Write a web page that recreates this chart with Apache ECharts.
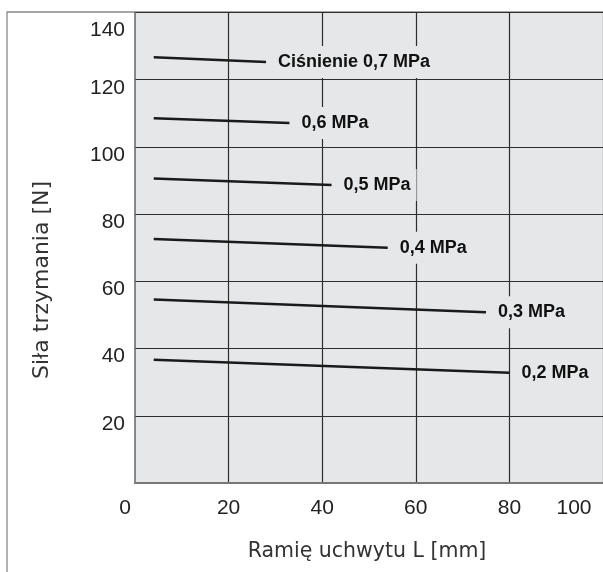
<!DOCTYPE html>
<html>
<head>
<meta charset="utf-8">
<script src="https://cdn.jsdelivr.net/npm/echarts@6/dist/echarts.min.js"></script>
<style>
  html, body { margin: 0; padding: 0; background: #fff; }
  #chart { width: 603px; height: 572px; }
</style>
</head>
<body>
<div id="chart"></div>
<script>
// Holding force vs gripper arm length, one line per supply pressure
const pressureNames = ['Ciśnienie 0,7 MPa', '0,6 MPa', '0,5 MPa', '0,4 MPa', '0,3 MPa', '0,2 MPa'];

// [arm length L in mm, holding force in N]
const p07 = [[4, 126.7], [28, 125.3]];
const p06 = [[4, 108.5], [33, 107.1]];
const p05 = [[4, 90.6], [42, 88.7]];
const p04 = [[4, 72.6], [54, 70.0]];
const p03 = [[4, 54.6], [75, 50.8]];
const p02 = [[4, 36.7], [80, 32.8]];
const pressureData = [p07, p06, p05, p04, p03, p02];

const xTicks = [0, 20, 40, 60, 80, 100];
const yTicks = [20, 40, 60, 80, 100, 120, 140];

const xTitle = 'Ramię uchwytu L [mm]';
const yTitle = 'Siła trzymania [N]';

const PLOT_BG = '#e6e7e8';
const GRID_LINE = '#2e2e2e';
const TICK_FONT = 'Liberation Sans, Arial, sans-serif';

const chart = echarts.init(document.getElementById('chart'), null, { renderer: 'canvas' });

const series = pressureNames.map((name, i) => ({
  name: name,
  type: 'line',
  data: pressureData[i],
  symbol: 'none',
  showSymbol: false,
  silent: true,
  lineStyle: { color: '#1a1a1a', width: 2.5 },
  endLabel: {
    show: true,
    formatter: '{a}',
    distance: 6,
    fontFamily: TICK_FONT,
    fontWeight: 'bold',
    fontSize: 18,
    color: '#111',
    backgroundColor: PLOT_BG,
    padding: [6, 6],
    lineHeight: 20
  }
}));

const option = {
  backgroundColor: '#ffffff',
  animation: false,
  grid: {
    left: 135,
    right: -3.5,
    top: 12,
    bottom: 89,
    show: true,
    backgroundColor: PLOT_BG,
    borderWidth: 0,
    containLabel: false
  },
  xAxis: {
    type: 'value',
    min: 0,
    max: 100,
    interval: 20,
    axisLine: { show: true, lineStyle: { color: '#777', width: 2 } },
    axisTick: { show: false },
    splitLine: { show: true, showMinLine: false, lineStyle: { color: GRID_LINE, width: 1.2 } },
    axisLabel: {
      margin: 15,
      formatter: function (v) {
        if (v === xTicks[0]) return '{first|' + v + '}';
        if (v === xTicks[xTicks.length - 1]) return '{last|' + v + '}';
        return '{mid|' + v + '}';
      },
      rich: {
        first: { fontFamily: TICK_FONT, fontSize: 21, color: '#222', padding: [0, 20, 0, 0] },
        mid: { fontFamily: TICK_FONT, fontSize: 21, color: '#222' },
        last: { fontFamily: TICK_FONT, fontSize: 21, color: '#222', padding: [0, 58, 0, 0] }
      }
    }
  },
  yAxis: {
    type: 'value',
    min: 0,
    max: 140,
    interval: 20,
    axisLine: { show: true, lineStyle: { color: '#666', width: 1.5 } },
    axisTick: { show: false },
    splitLine: { show: true, showMinLine: false, lineStyle: { color: GRID_LINE, width: 1.2 } },
    axisLabel: {
      showMinLabel: false,
      margin: 10,
      verticalAlign: 'top',
      formatter: function (v) {
        if (yTicks.indexOf(v) < 0) return '';
        if (v === yTicks[yTicks.length - 1]) return '{top|' + v + '}';
        return '{n|' + v + '}';
      },
      rich: {
        n: { fontFamily: TICK_FONT, fontSize: 21, color: '#222', lineHeight: 16 },
        top: { fontFamily: TICK_FONT, fontSize: 21, color: '#222', lineHeight: 16, padding: [20, 0, 0, 0] }
      }
    }
  },
  graphic: [
    {
      type: 'rect',
      z: -10,
      silent: true,
      shape: { x: 7, y: 12, width: 800, height: 800 },
      style: { fill: null, stroke: '#8a8a8a', lineWidth: 1.3 }
    },
    {
      type: 'text',
      silent: true,
      x: 42.5,
      y: 280,
      rotation: Math.PI / 2,
      style: {
        text: yTitle,
        fontFamily: 'DejaVu Sans, sans-serif',
        fontSize: 22,
        fill: '#333',
        align: 'center',
        verticalAlign: 'middle'
      }
    },
    {
      type: 'text',
      silent: true,
      x: 367,
      y: 552,
      style: {
        text: xTitle,
        fontFamily: 'DejaVu Sans, sans-serif',
        fontSize: 20.5,
        fill: '#333',
        align: 'center',
        verticalAlign: 'middle'
      }
    }
  ],
  series: series
};

chart.setOption(option);
</script>
</body>
</html>
